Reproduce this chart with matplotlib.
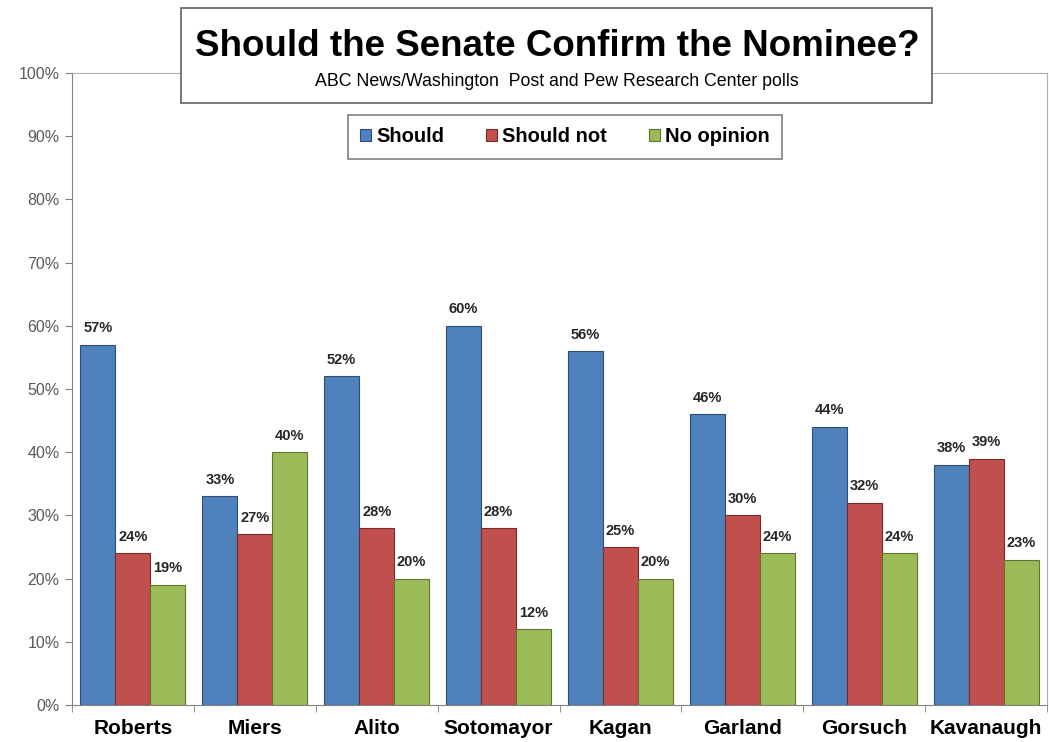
import matplotlib.pyplot as plt
from matplotlib.patches import Rectangle
import numpy as np

plt.rcParams['font.family'] = ['Liberation Sans', 'DejaVu Sans']

# данные опросов
nominees = ['Roberts', 'Miers', 'Alito', 'Sotomayor', 'Kagan', 'Garland', 'Gorsuch', 'Kavanaugh']
should = [57, 33, 52, 60, 56, 46, 44, 38]
should_not = [24, 27, 28, 28, 25, 30, 32, 39]
no_opinion = [19, 40, 20, 12, 20, 24, 24, 23]

series = [('Should', should, '#4F81BD', '#2C4D75'),
          ('Should not', should_not, '#C0504D', '#772C2A'),
          ('No opinion', no_opinion, '#9BBB59', '#5F7530')]

fig = plt.figure(figsize=(10.49, 7.42), dpi=100)
ax = fig.add_axes([72 / 1049, 1 - 705 / 742, (1047 - 72) / 1049, (705 - 73) / 742])

x = np.arange(len(nominees))
w = 0.287
for i, (name, vals, color, edge) in enumerate(series):
    pos = x + (i - 1) * w
    bars = ax.bar(pos, vals, width=w, color=color, edgecolor=edge, linewidth=0.8, label=name)
    for b, v in zip(bars, vals):
        ax.text(b.get_x() + b.get_width() / 2, v + 1.5, f'{v}%', ha='center', va='bottom',
                fontsize=10.5, fontweight='bold', color='#262626')

ax.set_xlim(-0.5, len(nominees) - 0.5)
ax.set_ylim(0, 100)
ax.set_yticks(range(0, 101, 10))
ax.set_yticklabels([f'{t}%' for t in range(0, 101, 10)], fontsize=11.5, color='#595959')
ax.set_xticks(x)
ax.set_xticklabels(nominees, fontsize=15, fontweight='bold', color='black')
ax.set_xticks(np.arange(len(nominees) + 1) - 0.5, minor=True)
ax.tick_params(axis='x', which='major', length=0, pad=10)
ax.tick_params(axis='x', which='minor', length=5, color='#808080', direction='out')
ax.tick_params(axis='y', length=5, color='#808080', pad=4)

for s in ['left', 'bottom']:
    ax.spines[s].set_color('#808080')
for s in ['top', 'right']:
    ax.spines[s].set_color('#b0b0b0')

# рамка заголовка
fig.patches.append(Rectangle((181 / 1049, 1 - 103 / 742), (932 - 181) / 1049, (103 - 8) / 742,
                             transform=fig.transFigure, facecolor='white', edgecolor='#606060',
                             linewidth=1.2, zorder=5))
fig.text(557 / 1049, 1 - 47 / 742, 'Should the Senate Confirm the Nominee?', ha='center', va='center',
         fontsize=26.5, fontweight='bold', zorder=6)
fig.text(557 / 1049, 1 - 82 / 742, 'ABC News/Washington  Post and Pew Research Center polls',
         ha='center', va='center', fontsize=12.8, zorder=6)

leg = ax.legend(loc='center', bbox_to_anchor=(565 / 1049, 1 - 137 / 742), bbox_transform=fig.transFigure,
                ncol=3, frameon=True, fancybox=False, edgecolor='#606060', prop={'weight': 'bold', 'size': 14.5},
                handlelength=0.55, handleheight=0.55, handletextpad=0.25, columnspacing=2.1,
                borderpad=0.6, borderaxespad=0)
leg.get_frame().set_linewidth(1.2)

fig.savefig('out.png', dpi=100)
